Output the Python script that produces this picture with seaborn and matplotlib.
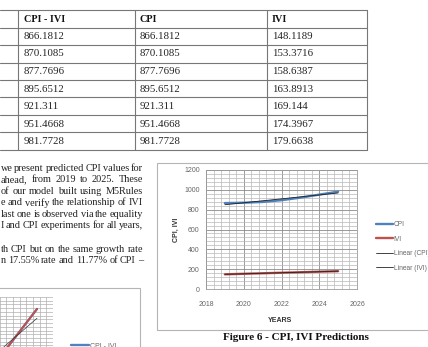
import numpy as np
import pandas as pd
import matplotlib
matplotlib.use("Agg")
import matplotlib.pyplot as plt
from matplotlib.lines import Line2D
from matplotlib.patches import Rectangle
from matplotlib.ticker import MultipleLocator
import seaborn as sns

# ---------------- data ----------------
years = [2019, 2020, 2021, 2022, 2023, 2024, 2025]
cpi = [866.1812, 870.1085, 877.7696, 895.6512, 921.311, 951.4668, 981.7728]
ivi = [148.1189, 153.3716, 158.6387, 163.8913, 169.144, 174.3967, 179.6638]
cpi_ivi_col = [866.1812, 870.1085, 877.7696, 895.6512, 921.311, 951.4668, 981.7728]
table_headers = ["CPI - IVI", "CPI", "IVI"]

paragraph_lines = [
    "we present predicted CPI values for",
    "ahead, from 2019 to 2025. These",
    "of our model built using M5Rules",
    "e and verify the relationship of IVI",
    "last one is observed via the equality",
    "I and CPI experiments for all years,",
    "",
    "th CPI but on the same growth rate",
    "n 17.55% rate and 11.77% of CPI \u2013",
]

legend_labels = ["CPI", "IVI", "Linear (CPI)", "Linear (IVI)"]
caption = "Figure 6 - CPI, IVI Predictions"

# partial chart (bottom-left, cut off)
part_x = [13.2, 17.6]
part_y = [19.6, 29.8]
part_trend_y = [19.6, 27.3]

# ---------------- style ----------------
sns.set_style("white")
plt.rcParams["font.family"] = ["Liberation Sans", "DejaVu Sans"]

W, H = 428, 347
fig = plt.figure(figsize=(W / 100, H / 100), dpi=100)
fig.patch.set_facecolor("white")
renderer = fig.canvas.get_renderer()


def fx(x):
    return x / W


def fy(y):
    return 1 - y / H


def hline(x0, x1, y, color="#777777", lw=0.8):
    fig.add_artist(Line2D([fx(x0), fx(x1)], [fy(y), fy(y)],
                          transform=fig.transFigure, color=color, lw=lw))


def vline(x, y0, y1, color="#777777", lw=0.8):
    fig.add_artist(Line2D([fx(x), fx(x)], [fy(y0), fy(y1)],
                          transform=fig.transFigure, color=color, lw=lw))


serif = ["Liberation Serif", "DejaVu Serif"]

# ---------------- table ----------------
row_ys = [10 + 17.5 * i for i in range(9)]
for y in row_ys:
    hline(0, 367, y)
for x in [18, 135, 267, 367]:
    vline(x, row_ys[0], row_ys[-1])
col_x = [24, 140, 272]
for j, h in enumerate(table_headers):
    fig.text(fx(col_x[j]), fy(row_ys[0] + 9), h, fontsize=7.3, fontweight="bold",
             family=serif, va="center", ha="left", color="#111111")
for i in range(len(years)):
    yc = row_ys[i + 1] + 9
    vals = [cpi_ivi_col[i], cpi[i], ivi[i]]
    for j, v in enumerate(vals):
        fig.text(fx(col_x[j]), fy(yc), str(v), fontsize=7.8, family=serif,
                 va="center", ha="left", color="#222222")

# ---------------- justified paragraph ----------------
line_y0 = 168
x_left, x_right = 0.5, 143
min_gap = 1.5
for k, t in enumerate(paragraph_lines):
    if not t:
        continue
    words = t.split(" ")
    yv = fy(line_y0 + 11.6 * k)
    arts = [fig.text(0, yv, w, fontsize=7.4, family=serif, ha="left",
                     va="center", color="#222222") for w in words]
    widths = [a.get_window_extent(renderer=renderer).width for a in arts]
    n_gaps = max(len(words) - 1, 1)
    gap = (x_right - x_left - sum(widths)) / n_gaps
    if gap < min_gap:
        gap = min_gap
    total = sum(widths) + gap * (len(words) - 1)
    xc = x_right - total
    for a, wd in zip(arts, widths):
        a.set_x(fx(xc))
        xc += wd + gap

# ---------------- main chart ----------------
fig.add_artist(Rectangle((fx(157), fy(330)), fx(300), fy(163) - fy(330),
                         transform=fig.transFigure, fill=False,
                         edgecolor="#b5b5b5", lw=0.8))

ax = fig.add_axes([fx(206), fy(289), fx(357) - fx(206), fy(170) - fy(289)])
df = pd.DataFrame({
    "Year": years * 2,
    "Value": cpi + ivi,
    "Series": ["CPI"] * len(years) + ["IVI"] * len(years),
})
palette = {"CPI": "#4F81BD", "IVI": "#C0504D"}
sns.lineplot(data=df, x="Year", y="Value", hue="Series", palette=palette,
             lw=1.7, ax=ax, legend=False)
sns.regplot(x=np.array(years), y=np.array(cpi), scatter=False, ci=None,
            color="#222222", line_kws={"lw": 0.6}, ax=ax, truncate=True)
sns.regplot(x=np.array(years), y=np.array(ivi), scatter=False, ci=None,
            color="#222222", line_kws={"lw": 0.6}, ax=ax, truncate=True)

ax.set_xlim(2018, 2026)
ax.set_ylim(0, 1200)
ax.xaxis.set_major_locator(MultipleLocator(2))
ax.xaxis.set_minor_locator(MultipleLocator(0.4))
ax.yaxis.set_major_locator(MultipleLocator(200))
ax.yaxis.set_minor_locator(MultipleLocator(40))
ax.grid(which="major", color="#8a8a8a", lw=0.6)
ax.grid(which="minor", color="#b8b8b8", lw=0.5)
ax.set_axisbelow(True)
for s in ax.spines.values():
    s.set_color("#9a9a9a")
    s.set_linewidth(0.6)
ax.tick_params(which="major", direction="out", length=2.5, width=0.6,
               color="#8a8a8a", labelsize=5, labelcolor="#666666", pad=2)
ax.tick_params(which="minor", length=0)
ax.tick_params(axis="x", pad=6)
ax.set_xlabel("YEARS", fontsize=5, fontweight="bold", color="#333333")
ax.set_ylabel("CPI, IVI", fontsize=5, fontweight="bold", color="#333333")
ax.xaxis.set_label_coords(0.49, -0.235)
ax.yaxis.set_label_coords(-0.17, 0.5)

handles = [
    Line2D([], [], color=palette["CPI"], lw=1.7),
    Line2D([], [], color=palette["IVI"], lw=1.7),
    Line2D([], [], color="#222222", lw=0.6),
    Line2D([], [], color="#222222", lw=0.6),
]
leg = ax.legend(handles, legend_labels, loc="upper left",
                bbox_to_anchor=(fx(376), fy(221.5)), bbox_transform=fig.transFigure,
                frameon=False, fontsize=4.8, handlelength=2.5, handletextpad=0.15,
                labelspacing=1.1, borderaxespad=0, borderpad=0)
for t in leg.get_texts():
    t.set_color("#666666")

fig.text(fx(223), fy(337), caption, fontsize=8, fontweight="bold", family=serif,
         ha="left", va="center", color="#111111")

# ---------------- partial chart (bottom-left) ----------------
fig.add_artist(Rectangle((fx(-5), fy(420)), fx(145), fy(288) - fy(420),
                         transform=fig.transFigure, fill=False,
                         edgecolor="#b5b5b5", lw=0.8))
ax2 = fig.add_axes([fx(-80), fy(420), fx(53) - fx(-80), fy(297) - fy(420)])
ax2.plot(part_x, part_y, color=palette["CPI"], lw=1.6)
ax2.plot(part_x, part_y, color=palette["IVI"], lw=1.4)
ax2.plot([part_x[0] - 0.6, part_x[1]], part_trend_y, color="#333333", lw=0.5)
ax2.set_xlim(0, 20)
ax2.set_ylim(0, 33)
ax2.xaxis.set_major_locator(MultipleLocator(1))
ax2.yaxis.set_major_locator(MultipleLocator(1))
ax2.grid(which="major", color="#b0b0b0", lw=0.5)
ax2.set_axisbelow(True)
ax2.set_xticklabels([])
ax2.set_yticklabels([])
ax2.tick_params(length=0)
for s in ax2.spines.values():
    s.set_visible(False)
leg2 = ax2.legend([Line2D([], [], color=palette["CPI"], lw=1.7)], ["CPI - IVI"],
                  loc="center left", bbox_to_anchor=(fx(71), fy(346)),
                  bbox_transform=fig.transFigure, frameon=False, fontsize=5,
                  handlelength=2.6, handletextpad=0.15, borderaxespad=0, borderpad=0)
for t in leg2.get_texts():
    t.set_color("#666666")

fig.savefig("out.png", dpi=100)
